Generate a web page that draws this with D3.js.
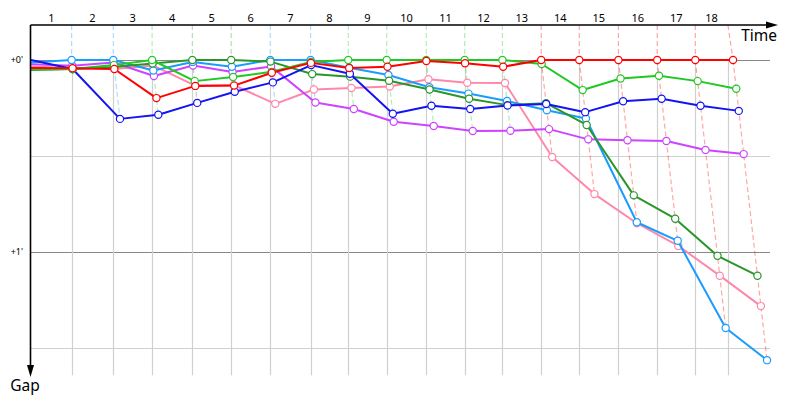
<!DOCTYPE html>
<html><head><meta charset="utf-8">
<script src="https://cdn.jsdelivr.net/npm/d3@7"></script>
<style>body{margin:0;background:#fff}svg{display:block}</style>
</head><body>
<svg id="chart" width="800" height="400"></svg>
<script>
// ---- data (time in seconds, gaps in seconds behind the leader) ----
const lapLabels = ["1","2","3","4","5","6","7","8","9","10","11","12","13","14","15","16","17","18"];
const lapLines = [0,112,227,334,445,552,660,771,875,981,1090,1196,1300,1407,1512,1620,1727,1832,1922];
const leaderTimes = [0,112,227,334,445,552,660,771,875,981,1090,1196,1300,1407,1512,1620,1727,1832,1936];
const gapTicks = [0, 30, 60, 90];
const gapLabelValues = [0, 60];
const gapLabelTexts = ["+0'", "+1'"];

// index 0 = start, index k = end of lap k
const pinkGaps   = [2.0, 2.5, 2.8, 1.7, 8.0, 7.9, 13.7, 9.2, 8.75, 8.3, 6.0, 7.1, 7.2, 30.3, 41.9, 51.0, 58.1, 67.4, 76.9];
const purpleGaps = [1.3, 1.8, 0.8, 5.0, 1.7, 3.75, 2.0, 13.3, 15.3, 19.3, 20.6, 22.2, 22.1, 21.6, 24.8, 25.1, 25.3, 28.1, 29.4];
const cyanGaps   = [0.8, 0, 0, 3.3, 0.6, 2.1, 0, 0, 2.4, 4.7, 8.5, 10.5, 12.8, 15.7, 18.3, 50.7, 56.5, 83.75, 93.8];
const darkGreenGaps = [3.1, 2.8, 2.2, 1.1, 0, 0, 0.5, 4.4, 5.2, 6.5, 9.2, 12.1, 14.1, 13.5, 20.3, 42.3, 49.6, 61.2, 67.4];
const blueGaps   = [0, 2.8, 18.4, 17.1, 13.4, 9.9, 7.0, 1.6, 4.3, 16.8, 14.3, 15.3, 14.2, 13.75, 16.3, 12.9, 12.1, 14.3, 15.9];
const greenGaps  = [3.0, 2.8, 1.6, 0, 6.6, 5.3, 3.7, 0.6, 0, 0, 0, 0, 0, 1.25, 9.4, 5.8, 4.9, 6.6, 9.0];
const redGaps    = [2.5, 2.6, 2.8, 11.9, 8.1, 8.0, 4.0, 0.9, 2.5, 2.1, 0.3, 1.0, 2.1, 0, 0, 0, 0, 0, 0];

const seriesNames  = ["pink","purple","cyan","darkgreen","blue","green","red"];
const seriesGaps   = [pinkGaps, purpleGaps, cyanGaps, darkGreenGaps, blueGaps, greenGaps, redGaps];
const seriesColors = ["#ff88aa","#cc44ff","#1a9cff","#2a962a","#1414f2","#22c822","#ff0000"];

// ---- drawing ----
const svg = d3.select("#chart");
const x = d3.scaleLinear().domain([0, 2038]).range([31, 770]);
const y = d3.scaleLinear().domain([0, 100]).range([60, 380]);
const axisY = 25, axisX = 30.5;
const font = "'Noto Sans', 'DejaVu Sans', sans-serif";

// horizontal grid
svg.append("g").selectAll("line").data(gapTicks).join("line")
  .attr("x1", x(0)).attr("x2", x(2038))
  .attr("y1", d => y(d) + 0.5).attr("y2", d => y(d) + 0.5)
  .attr("stroke", d => d % 60 === 0 ? "#888" : "#d0d0d0").attr("stroke-width", 1.2);

// vertical lap grid
svg.append("g").selectAll("line").data(lapLines.slice(1)).join("line")
  .attr("x1", d => Math.round(x(d)) + 0.5).attr("x2", d => Math.round(x(d)) + 0.5)
  .attr("y1", y(0)).attr("y2", y(98.5))
  .attr("stroke", "#d0d0d0").attr("stroke-width", 1.2);

// per-lap leader/dashed lines
const lapInfo = d3.range(1, leaderTimes.length).map(k => {
  const gaps = seriesGaps.map(s => s[k]);
  const li = d3.minIndex(gaps);
  const mi = d3.maxIndex(gaps);
  return {k, leader: li, maxGap: gaps[mi]};
});
const dashG = svg.append("g").attr("fill", "none").attr("stroke-width", 1.2).attr("stroke-dasharray", "5,3");
lapInfo.forEach(l => {
  const c = seriesColors[l.leader];
  const lx = x(leaderTimes[l.k]);
  dashG.append("line")
    .attr("x1", x(lapLines[l.k])).attr("y1", axisY)
    .attr("x2", lx).attr("y2", y(0))
    .attr("stroke", c).attr("stroke-opacity", 0.35);
  dashG.append("line")
    .attr("x1", lx).attr("y1", y(0))
    .attr("x2", x(leaderTimes[l.k] + l.maxGap)).attr("y2", y(l.maxGap))
    .attr("stroke", c).attr("stroke-opacity", 0.35);
});

// series
seriesGaps.forEach((gaps, si) => {
  const pts = gaps.map((g, k) => ({t: k === 0 ? 0 : leaderTimes[k] + g, g, k}));
  const g = svg.append("g");
  g.append("path").datum(pts)
    .attr("d", d3.line().x(d => x(d.t)).y(d => y(d.g)))
    .attr("fill", "none").attr("stroke", seriesColors[si]).attr("stroke-width", 2)
    .attr("stroke-linejoin", "round");
  g.selectAll("circle").data(pts.filter(d => d.k > 0)).join("circle")
    .attr("cx", d => x(d.t)).attr("cy", d => y(d.g)).attr("r", 3.6)
    .attr("fill", "#fff").attr("stroke", seriesColors[si]).attr("stroke-width", 1.2);
});

// axes
svg.append("line").attr("x1", axisX).attr("x2", 768).attr("y1", axisY).attr("y2", axisY)
  .attr("stroke", "#000").attr("stroke-width", 1.6);
svg.append("path").attr("d", `M766,${axisY-3.5} L778,${axisY} L766,${axisY+3.5} Z`).attr("fill", "#000");
svg.append("line").attr("x1", axisX).attr("x2", axisX).attr("y1", axisY).attr("y2", 366)
  .attr("stroke", "#000").attr("stroke-width", 1.6);
svg.append("path").attr("d", `M${axisX-3.5},365 L${axisX},377 L${axisX+3.5},365 Z`).attr("fill", "#000");

// lap labels
svg.append("g").selectAll("text").data(lapLabels).join("text")
  .attr("x", (d, i) => x((lapLines[i] + lapLines[i + 1]) / 2))
  .attr("y", 21.5).attr("text-anchor", "middle")
  .attr("font-family", font).attr("font-size", 11).attr("fill", "#000")
  .text(d => d);

// gap labels
svg.append("g").selectAll("text").data(gapLabelValues).join("text")
  .attr("x", 23).attr("y", d => y(d) + 3).attr("text-anchor", "end")
  .attr("font-family", font).attr("font-size", 9).attr("fill", "#000")
  .text((d, i) => gapLabelTexts[i]);

svg.append("text").attr("x", 777).attr("y", 40.5).attr("text-anchor", "end")
  .attr("font-family", font).attr("font-size", 15.5).attr("fill", "#000").text("Time");
svg.append("text").attr("x", 25).attr("y", 391).attr("text-anchor", "middle")
  .attr("font-family", font).attr("font-size", 15.5).attr("fill", "#000").text("Gap");
</script>
</body></html>
